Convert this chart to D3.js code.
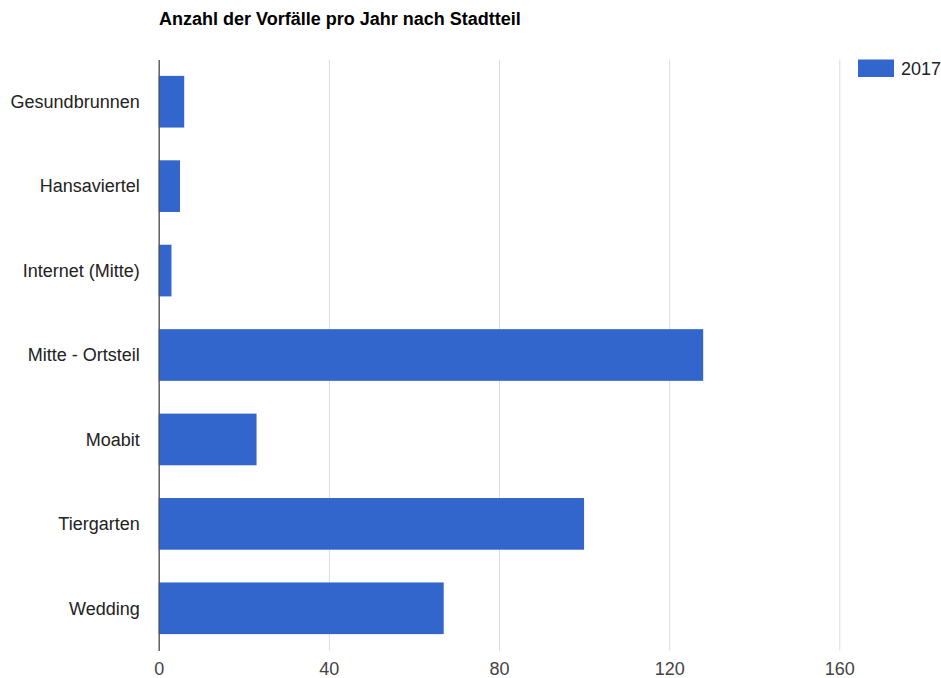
<!DOCTYPE html>
<html><head><meta charset="utf-8">
<script src="https://cdn.jsdelivr.net/npm/d3@7"></script>
<style>body{margin:0;background:#fff}svg{display:block}text{font-family:Arial,"Liberation Sans",sans-serif}</style>
</head><body>
<script>
const categories = ["Gesundbrunnen","Hansaviertel","Internet (Mitte)","Mitte - Ortsteil","Moabit","Tiergarten","Wedding"];
const values2017 = [6,5,3,128,23,100,67];
const xTicks = [0,40,80,120,160];
const seriesName = "2017";
const title = "Anzahl der Vorfälle pro Jahr nach Stadtteil";

const W=941,H=678;
const svg=d3.select("body").append("svg").attr("width",W).attr("height",H);
const x=d3.scaleLinear().domain([0,160]).range([158.7,839.3]);
const y=d3.scaleBand().domain(categories).range([59.5,650.5]).paddingInner(0.388).paddingOuter(0.194);

svg.append("text").attr("x",159).attr("y",25).attr("font-size",18).attr("font-weight","bold").attr("fill","#000").text(title);

const gx=svg.append("g").attr("transform","translate(0,650.5)")
  .call(d3.axisBottom(x).tickValues(xTicks).tickSize(-591).tickFormat(d3.format("d")));
gx.select(".domain").remove();
gx.selectAll(".tick line").attr("stroke","#dcdcdc");
gx.selectAll(".tick text").attr("font-size",18).attr("fill","#444").attr("dy",0).attr("y",24);
gx.selectAll(".tick").filter(d=>d===0).select("line").remove();

svg.selectAll("rect.bar").data(values2017).join("rect").attr("class","bar")
  .attr("x",x(0)).attr("y",(d,i)=>y(categories[i])).attr("height",y.bandwidth())
  .attr("width",d=>x(d)-x(0)).attr("fill","#3366cc");

const gy=svg.append("g").attr("transform",`translate(${x(0)},0)`)
  .call(d3.axisLeft(y).tickSize(0).tickPadding(19));
gy.select(".domain").attr("stroke","#555").attr("stroke-width",1.4);
gy.selectAll(".tick text").attr("font-size",18).attr("fill","#222").attr("dy","0.35em");

const lg=svg.append("g");
lg.append("rect").attr("x",858).attr("y",59.5).attr("width",36).attr("height",17.5).attr("fill","#3366cc");
lg.append("text").attr("x",901).attr("y",75).attr("font-size",18).attr("fill","#222").text(seriesName);
</script>
</body></html>
